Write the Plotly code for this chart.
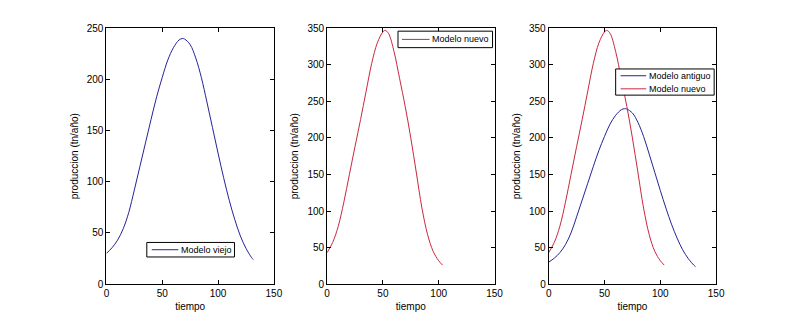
import plotly.graph_objects as go

# Old model: time and production (tn/año)
tiempo_viejo = [0, 5, 10, 15, 20, 25, 30, 35, 40, 45, 50, 55, 60, 65, 68, 70, 75, 80,
                85, 90, 95, 100, 105, 110, 115, 120, 125, 130, 131.5]
prod_viejo = [30, 35.5, 43, 54, 70, 92, 115, 138, 161, 183, 202, 219, 231, 238.5, 240, 239.5,
              234, 221, 202, 178, 153, 128, 104, 82, 63, 47, 35, 26, 24]

# New model
tiempo_nuevo = [0, 5, 10, 15, 20, 25, 30, 35, 40, 45, 50, 52, 55, 60, 65, 70, 75, 80,
                85, 90, 95, 100, 103.5]
prod_nuevo = [43, 57, 79, 112, 150, 188, 225, 264, 302, 330, 345, 347, 343, 318, 281,
              243, 200, 152, 104, 68, 45, 32, 26]

x_ticks = [0, 50, 100, 150]
y_ticks_viejo = [0, 50, 100, 150, 200, 250]
y_ticks_nuevo = [0, 50, 100, 150, 200, 250, 300, 350]

AZUL = "#23239a"
ROJO = "#c8283c"
FONT = dict(family="Liberation Sans, Arial, sans-serif", size=10, color="black")
LEG_FONT = dict(family="Liberation Sans, Arial, sans-serif", size=9, color="black")

W, H = 800, 324
def px_x(p):
    return p / W
def px_y(p):
    return 1 - p / H

fig = go.Figure()

series = [
    (tiempo_viejo, prod_viejo, "Modelo viejo", AZUL, "x", "y"),
    (tiempo_nuevo, prod_nuevo, "Modelo nuevo", ROJO, "x2", "y2"),
    (tiempo_viejo, prod_viejo, "Modelo antiguo", AZUL, "x3", "y3"),
    (tiempo_nuevo, prod_nuevo, "Modelo nuevo", ROJO, "x3", "y3"),
]
for t, p, name, color, xa, ya in series:
    fig.add_trace(go.Scatter(x=t, y=p, mode="lines", name=name, showlegend=False,
                             line=dict(color=color, width=1, shape="spline"),
                             xaxis=xa, yaxis=ya))

panels = [(105, 275), (329, 499), (554, 724)]
ydom = [px_y(288), px_y(24)]

axis_common = dict(showline=True, linecolor="black", linewidth=1, mirror="ticks",
                   ticks="inside", ticklen=4, tickcolor="black", showgrid=False,
                   zeroline=False, tickfont=FONT)

layout = dict(width=W, height=H, margin=dict(l=0, r=0, t=0, b=0),
              paper_bgcolor="white", plot_bgcolor="white", font=FONT, showlegend=False)

for i, (x0, x1) in enumerate(panels):
    sfx = "" if i == 0 else str(i + 1)
    yticks = y_ticks_viejo if i == 0 else y_ticks_nuevo
    layout["xaxis" + sfx] = dict(axis_common, domain=[px_x(x0), px_x(x1)], range=[0, 150],
                                 tickvals=x_ticks, anchor="y" + sfx,
                                 title=dict(text="tiempo", font=FONT, standoff=4))
    layout["yaxis" + sfx] = dict(axis_common, domain=ydom, range=[0, yticks[-1]],
                                 tickvals=yticks, anchor="x" + sfx,
                                 title=dict(text="produccion (tn/año)", font=FONT, standoff=6))

# Boxed legends: (box x0, x1, y0, y1, line x0, x1, entries [(label, color, row y)])
legend_boxes = [
    (146, 235, 245, 260, 151, 178, [("Modelo viejo", AZUL, 252.5)]),
    (401, 497, 27, 44, 405, 433, [("Modelo nuevo", ROJO, 35.5)]),
    (622, 722, 66, 93, 627, 653, [("Modelo antiguo", AZUL, 73), ("Modelo nuevo", ROJO, 86.5)]),
]
shapes, annotations = [], []
for bx0, bx1, by0, by1, lx0, lx1, entries in legend_boxes:
    shapes.append(dict(type="rect", xref="paper", yref="paper", layer="above",
                       x0=px_x(bx0), x1=px_x(bx1), y0=px_y(by1), y1=px_y(by0),
                       fillcolor="white", line=dict(color="black", width=1)))
    for label, color, ry in entries:
        shapes.append(dict(type="line", xref="paper", yref="paper", layer="above",
                           x0=px_x(lx0), x1=px_x(lx1), y0=px_y(ry), y1=px_y(ry),
                           line=dict(color=color, width=1)))
        annotations.append(dict(xref="paper", yref="paper", x=px_x(lx1 + 1), y=px_y(ry),
                                xanchor="left", yanchor="middle", showarrow=False,
                                text=label, font=LEG_FONT, xshift=0))
layout["shapes"] = shapes
layout["annotations"] = annotations

fig.update_layout(**layout)
fig.write_html("out.html")
